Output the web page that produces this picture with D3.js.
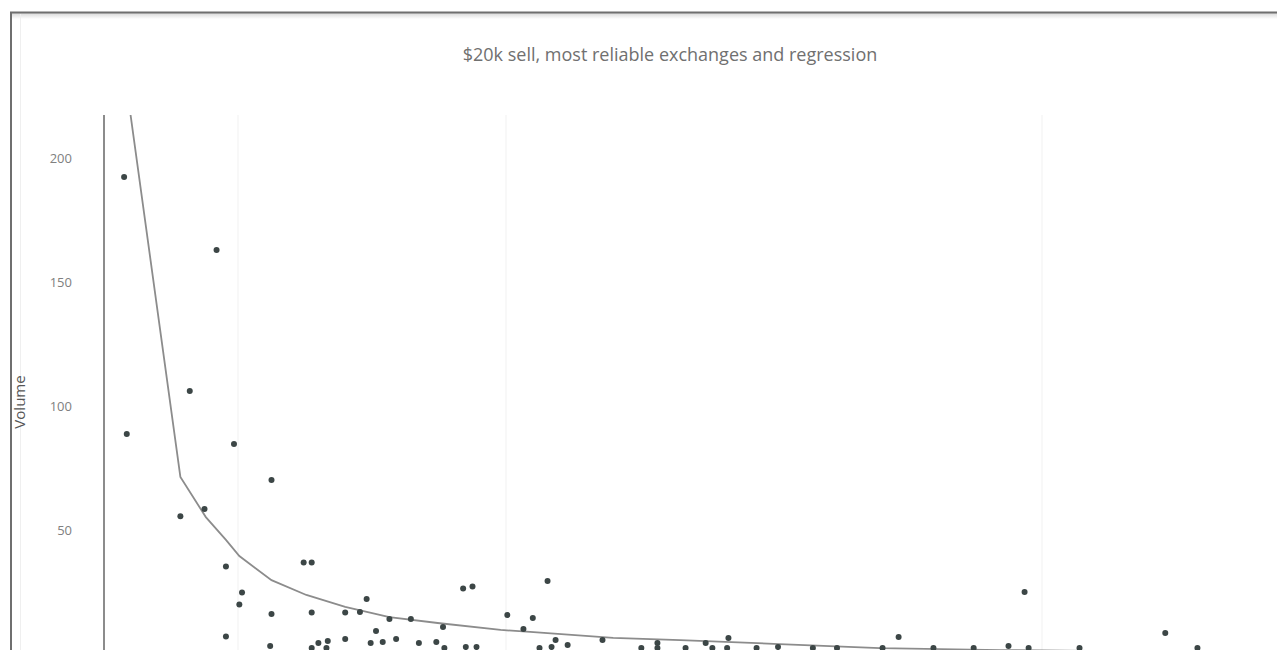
<!DOCTYPE html>
<html>

<head>
    <meta charset="utf-8">
    <title>$20k sell</title>
    <script src="https://d3js.org/d3.v7.min.js"></script>
</head>

<body>
    <div id="svg-container"></div>
    <script>
        // slippage (x) vs volume (y)
        const pointX = [0.15, 0.17, 0.84, 0.64, 0.97, 1.25, 0.57, 0.75, 0.91, 1.03,
            1.01, 0.91, 1.25, 1.24, 1.49, 1.55, 1.55, 1.96, 1.80, 1.91,
            2.13, 2.29, 2.53, 2.68, 2.75, 2.03, 1.80, 1.60, 1.67, 1.99,
            2.08, 2.18, 2.35, 2.48, 2.70, 2.78, 2.54, 1.55, 1.66, 3.31,
            3.01, 3.20, 3.13, 3.37, 3.34, 3.46, 3.72, 4.01, 4.13, 4.13,
            4.34, 4.49, 4.54, 4.65, 4.66, 4.87, 5.03, 5.29, 5.47, 5.93,
            5.81, 6.19, 6.49, 6.75, 6.87, 6.90, 7.28, 7.92, 8.16, 3.25]
        const pointY = [192.3, 88.7, 162.9, 106.0, 84.7, 70.2, 55.5, 58.5, 35.3, 24.8,
            20.0, 7.1, 16.1, 3.2, 36.9, 36.9, 16.7, 22.2, 16.7, 16.9,
            14.1, 14.1, 10.9, 26.4, 27.2, 9.3, 6.0, 4.4, 5.2, 4.4,
            4.8, 6.0, 4.4, 4.8, 2.8, 2.8, 2.4, 2.4, 2.4, 29.4,
            15.7, 14.5, 10.1, 5.6, 2.8, 3.6, 5.6, 2.4, 4.4, 2.4,
            2.4, 4.4, 2.4, 2.4, 6.5, 2.4, 2.8, 2.4, 2.4, 6.9,
            2.4, 2.4, 2.4, 3.2, 25.0, 2.4, 2.4, 8.5, 2.4, 2.4]

        // regression curve vertices
        const fitX = [0.15, 0.57, 0.76, 0.91, 1.01, 1.25, 1.51, 1.80, 2.13, 2.49,
            2.96, 3.18, 3.80, 4.30, 5.04, 5.79, 6.69, 8.18]
        const fitY = [236.3, 71.4, 55.2, 46.0, 39.5, 29.8, 23.8, 19.0, 14.9, 12.5,
            9.7, 8.9, 6.5, 5.6, 4.0, 2.4, 1.6, 0.8]

        const yTicks = [0, 50, 100, 150, 200]
        const xGrid = [1, 3, 7]

        const title = "$20k sell, most reliable exchanges and regression"

        const w = 1277
        const h = 650
        const plotTop = 115

        const svg = d3.select("#svg-container").append("svg").attr("width", w).attr("height", h)

        const xScale = d3.scaleLinear().domain([0, 8.5]).range([104, 104 + 8.5 * 134])
        const yScale = d3.scaleLinear().domain([0, 200]).range([654, 158])

        // outer frame of the screenshot
        const grad = svg.append("defs").append("linearGradient").attr("id", "shade")
            .attr("x1", 0).attr("y1", 0).attr("x2", 0).attr("y2", 1)
        grad.append("stop").attr("offset", "0%").attr("stop-color", "#d8d8d8")
        grad.append("stop").attr("offset", "100%").attr("stop-color", "#ffffff")
        svg.append("rect").attr("x", 10).attr("y", 13).attr("width", w).attr("height", 6).style("fill", "url(#shade)")
        svg.append("line").attr("x1", 10).attr("x2", w).attr("y1", 12.5).attr("y2", 12.5)
            .style("stroke", "#6f6f6f").style("stroke-width", 2)
        svg.append("line").attr("x1", 11).attr("x2", 11).attr("y1", 12).attr("y2", h)
            .style("stroke", "#6f6f6f").style("stroke-width", 2)
        svg.append("line").attr("x1", 20.5).attr("x2", 20.5).attr("y1", 14).attr("y2", h)
            .style("stroke", "#efefef").style("stroke-width", 1)

        svg.append("clipPath").attr("id", "plot-clip").append("rect")
            .attr("x", 104).attr("y", plotTop).attr("width", w - 104).attr("height", h - plotTop)

        // grid lines, barely visible in the screenshot
        svg.append("g").selectAll("line")
            .data(xGrid)
            .enter()
            .append("line")
            .attr("x1", (d) => xScale(d)).attr("x2", (d) => xScale(d))
            .attr("y1", plotTop).attr("y2", h)
            .style("stroke", "#f8f8f8")
            .style("stroke-width", 2)

        const yAxis = d3.axisLeft(yScale).tickValues(yTicks).tickSize(0).tickPadding(32)
        const gy = svg.append("g")
            .attr("id", "y-axis")
            .attr("transform", "translate(104,0)")
            .call(yAxis)
        gy.select(".domain").remove()
        gy.selectAll("text")
            .style("font-family", "'Open Sans', sans-serif")
            .style("font-size", "13px")
            .style("fill", "#808080")

        svg.append("line").attr("x1", 104).attr("x2", 104).attr("y1", plotTop).attr("y2", h)
            .style("stroke", "#666").style("stroke-width", 1.5)

        const fit = fitX.map((x, i) => [x, fitY[i]])
        const line = d3.line().x((d) => xScale(d[0])).y((d) => yScale(d[1]))
        svg.append("path")
            .datum(fit)
            .attr("clip-path", "url(#plot-clip)")
            .attr("d", line)
            .style("fill", "none")
            .style("stroke", "#8c8c8c")
            .style("stroke-width", 1.8)

        const pts = pointX.map((x, i) => ({ x: x, y: pointY[i] }))
        svg.selectAll("circle.dot")
            .data(pts)
            .enter()
            .append("circle")
            .attr("class", "dot")
            .attr("cx", (d) => xScale(d.x))
            .attr("cy", (d) => yScale(d.y))
            .attr("r", 3)
            .style("fill", "#3c4646")

        svg.append("text")
            .attr("x", 670).attr("y", 61)
            .attr("text-anchor", "middle")
            .style("font-family", "'Open Sans', sans-serif")
            .style("font-size", "18px")
            .style("fill", "#707070")
            .text(title)

        svg.append("text")
            .attr("transform", "translate(25,402) rotate(-90)")
            .attr("text-anchor", "middle")
            .style("font-family", "'Open Sans', sans-serif")
            .style("font-size", "15px")
            .style("fill", "#555")
            .text("Volume")
    </script>
</body>
<style>
    body {
        margin: 0;
        background: #fff;
    }

    #svg-container {
        width: 1277px;
        height: 650px;
        overflow: hidden;
    }
</style>

</html>
